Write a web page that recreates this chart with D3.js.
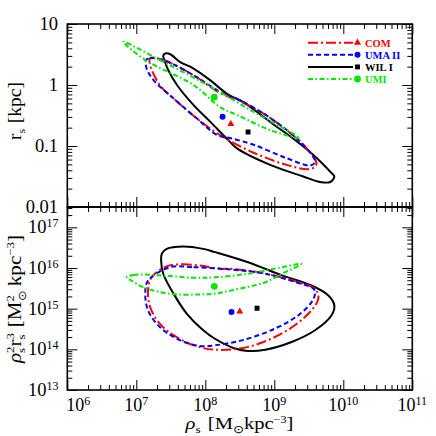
<!DOCTYPE html>
<html><head><meta charset="utf-8">
<script src="https://cdn.jsdelivr.net/npm/d3@7"></script>
<style>body{margin:0;background:#fff}svg{display:block}</style>
</head><body><svg id="c" width="436" height="436"></svg>
<script>
// ---------------- DATA (log10 values) ----------------
const seriesNames = ["COM", "UMA II", "WIL I", "UMI"];
const xTickExps = [6, 7, 8, 9, 10, 11];
const topYTickVals = [10, 1, 0.1, 0.01];
const topYTickLabels = ["10", "1", "0.1", "0.01"];
const botYTickExps = [13, 14, 15, 16, 17];

// top panel contours: [log10 rho_s, log10 r_s]
const comTop = [[7.20,0.44],[7.39,0.41],[7.83,0.16],[8.21,-0.13],[8.50,-0.26],[8.94,-0.54],[9.42,-0.98],[9.61,-1.27],[9.59,-1.34],[9.49,-1.38],[9.18,-1.31],[8.70,-1.11],[8.21,-0.82],[7.88,-0.55],[7.59,-0.27],[7.34,0.00],[7.20,0.33]];
const umaTop = [[7.14,0.41],[7.20,0.44],[7.39,0.41],[7.83,0.16],[8.21,-0.11],[8.50,-0.25],[8.94,-0.54],[9.42,-0.98],[9.59,-1.26],[9.52,-1.32],[9.18,-1.20],[8.70,-0.98],[8.36,-0.87],[8.17,-0.82],[7.88,-0.55],[7.54,-0.22],[7.25,0.08],[7.15,0.27]];
const wilTop = [[7.39,0.48],[7.43,0.52],[7.50,0.50],[7.63,0.38],[7.83,0.27],[8.07,0.08],[8.31,-0.14],[8.55,-0.28],[8.70,-0.40],[9.03,-0.68],[9.18,-0.80],[9.57,-1.15],[9.81,-1.42],[9.87,-1.50],[9.81,-1.59],[9.66,-1.59],[9.42,-1.50],[8.94,-1.31],[8.46,-1.04],[8.33,-0.90],[8.07,-0.60],[7.83,-0.33],[7.59,0.00],[7.46,0.25],[7.41,0.40]];
const umiTop = [[6.81,0.71],[7.34,0.41],[8.11,-0.05],[8.70,-0.44],[9.18,-0.74],[9.37,-0.87],[8.94,-0.74],[8.46,-0.49],[8.21,-0.36],[7.83,0.00],[7.13,0.41]];

// bottom panel contours: [log10 rho_s, log10 rho_s^2 r_s^3]
const comBot = [[7.44,16.04],[7.66,16.09],[7.92,16.06],[8.21,15.98],[8.38,15.98],[8.87,15.86],[9.35,15.65],[9.59,15.49],[9.64,15.28],[9.61,15.12],[9.44,14.79],[9.11,14.39],[8.62,14.06],[8.14,13.99],[7.83,14.10],[7.54,14.35],[7.34,14.63],[7.20,15.04],[7.17,15.45],[7.22,15.77]];
const umaBot = [[7.49,16.02],[7.83,16.02],[8.38,15.96],[8.87,15.86],[9.35,15.63],[9.57,15.49],[9.59,15.37],[9.54,15.16],[9.35,14.84],[9.01,14.51],[8.53,14.22],[8.14,14.10],[7.92,14.08],[7.59,14.26],[7.34,14.55],[7.17,14.96],[7.13,15.37],[7.17,15.69]];
const wilBot = [[7.36,16.18],[7.37,16.35],[7.44,16.47],[7.68,16.53],[7.97,16.47],[8.14,16.39],[8.62,16.14],[9.11,15.82],[9.54,15.57],[9.78,15.33],[9.87,15.08],[9.83,14.84],[9.59,14.47],[9.25,14.18],[8.87,13.99],[8.62,13.96],[8.43,14.02],[8.14,14.26],[7.97,14.47],[7.73,14.88],[7.54,15.37],[7.39,15.86]];
const umiBot = [[6.86,15.77],[6.96,15.83],[7.34,15.82],[7.83,15.76],[8.14,15.77],[8.62,15.86],[9.11,16.02],[9.39,16.10],[9.11,15.86],[8.87,15.65],[8.38,15.45],[8.14,15.37],[7.92,15.35],[7.59,15.35],[7.34,15.41],[7.10,15.53],[6.93,15.69]];

// best-fit points, order: COM, UMA II, WIL I, UMI
const bestRhoTop = [8.37, 8.25, 8.62, 8.13];
const bestRsTop  = [-0.64, -0.52, -0.77, -0.20];
const bestRhoBot = [8.50, 8.38, 8.75, 8.13];
const bestMBot   = [14.93, 14.92, 15.01, 15.55];

// ---------------- STYLE ----------------
const colors = ["#ff0000", "#0000ff", "#000000", "#00e600"];
const dashes = ["10,3,2,3", "5,3", null, "5,2.5,1.5,2.5"];
const symbols = [d3.symbolTriangle, d3.symbolCircle, d3.symbolSquare, d3.symbolCircle];
const symSizes = [22, 28, 24, 36];
const FONT = "'Liberation Serif','Times New Roman',serif";

const svg = d3.select("#c");
const X0 = 67.3, X1 = 412.3, Y0 = 24, YM = 207, Y1 = 390;
const x = d3.scaleLog().domain([1e6, 1e11]).range([X0, X1]);
const yTop = d3.scaleLog().domain([0.01, 10]).range([YM, Y0]);
const yBot = d3.scaleLog().domain([1e13, Math.pow(10, 17.5)]).range([Y1, YM]);
const p10 = v => Math.pow(10, v);

function minorVals(lo, hi, max) {
  const out = [];
  for (let k = lo; k <= hi; k++) for (let m = 2; m <= 9; m++) {
    const v = m * Math.pow(10, k);
    if (v <= max * 1.0001) out.push(v);
  }
  return out;
}
const xMajor = xTickExps.map(p10);
const xMinor = minorVals(6, 10, 1e11);
const yTopMajor = topYTickVals;
const yTopMinor = minorVals(-2, 0, 10);
const yBotMajor = botYTickExps.map(p10);
const yBotMinor = minorVals(13, 17, Math.pow(10, 17.5));

function drawPanelAxes(ys, yMaj, yMin) {
  const [yb, yt] = ys.range();
  const g = svg.append("g");
  const specs = [
    [() => d3.axisBottom(x), `translate(0,${yb})`, xMajor, xMinor],
    [() => d3.axisTop(x), `translate(0,${yt})`, xMajor, xMinor],
    [() => d3.axisLeft(ys), `translate(${X0},0)`, yMaj, yMin],
    [() => d3.axisRight(ys), `translate(${X1},0)`, yMaj, yMin]
  ];
  specs.forEach(([mk, tr, maj, min]) => {
    const a1 = g.append("g").attr("transform", tr)
      .call(mk().tickValues(maj).tickSizeInner(-10).tickSizeOuter(0).tickFormat(""));
    a1.select(".domain").remove();
    const a2 = g.append("g").attr("transform", tr)
      .call(mk().tickValues(min).tickSizeInner(-5).tickSizeOuter(0).tickFormat(""));
    a2.select(".domain").remove();
  });
  g.selectAll(".tick line").attr("stroke", "#000").attr("stroke-width", 1);
  svg.append("rect").attr("x", X0).attr("y", yt).attr("width", X1 - X0).attr("height", yb - yt)
    .attr("fill", "none").attr("stroke", "#000").attr("stroke-width", 1.6);
}

// rich text helper: pieces {t, s, dy, it, stack, gap}
function rich(parent, pieces, fill) {
  const g = parent.append("g");
  let cx = 0, prevStart = 0;
  pieces.forEach(p => {
    const start = p.stack ? prevStart : cx + (p.gap || 0);
    const t = g.append("text").attr("x", start).attr("y", p.dy || 0)
      .attr("font-family", FONT).attr("font-size", p.s)
      .attr("font-style", p.it ? "italic" : "normal")
      .attr("fill", fill || "#000").text(p.t);
    const w = t.node().getComputedTextLength();
    if (p.stack) cx = Math.max(cx, start + w);
    else { prevStart = start; cx = start + w; }
  });
  return { g, w: cx };
}

// clip paths
const defs = svg.append("defs");
defs.append("clipPath").attr("id", "clipTop").append("rect")
  .attr("x", X0).attr("y", Y0).attr("width", X1 - X0).attr("height", YM - Y0);
defs.append("clipPath").attr("id", "clipBot").append("rect")
  .attr("x", X0).attr("y", YM).attr("width", X1 - X0).attr("height", Y1 - YM);

function drawContours(ys, sets, clip, bestX, bestY) {
  const g = svg.append("g").attr("clip-path", `url(#${clip})`);
  const ln = d3.line().x(d => x(p10(d[0]))).y(d => ys(p10(d[1])))
    .curve(d3.curveCatmullRomClosed.alpha(0.5));
  const order = [2, 0, 1, 3];
  order.forEach(i => {
    g.append("path").attr("d", ln(sets[i])).attr("fill", "none")
      .attr("stroke", colors[i]).attr("stroke-width", 2)
      .attr("stroke-dasharray", dashes[i]).attr("stroke-linejoin", "round");
  });
  order.forEach(i => {
    g.append("path").attr("d", d3.symbol().type(symbols[i]).size(symSizes[i])())
      .attr("transform", `translate(${x(p10(bestX[i]))},${ys(p10(bestY[i]))})`)
      .attr("fill", colors[i]);
  });
}

drawContours(yTop, [comTop, umaTop, wilTop, umiTop], "clipTop", bestRhoTop, bestRsTop);
drawContours(yBot, [comBot, umaBot, wilBot, umiBot], "clipBot", bestRhoBot, bestMBot);
drawPanelAxes(yTop, yTopMajor, yTopMinor);
drawPanelAxes(yBot, yBotMajor, yBotMinor);

// x tick labels
xTickExps.forEach((e, i) => {
  const r = rich(svg, [{ t: "10", s: 18 }, { t: String(e), s: 12, dy: -6 }]);
  let cx = x(p10(e));
  if (i === 0) cx = X0 + 11;
  r.g.attr("transform", `translate(${cx - r.w / 2},410.5)`);
});
// top y tick labels
topYTickVals.forEach((v, i) => {
  const r = rich(svg, [{ t: topYTickLabels[i], s: 18.5 }]);
  r.g.attr("transform", `translate(${58 - r.w},${yTop(v) + 6})`);
});
// bottom y tick labels
botYTickExps.forEach(e => {
  const r = rich(svg, [{ t: "10", s: 18.5 }, { t: String(e), s: 12, dy: -6 }]);
  r.g.attr("transform", `translate(${58.5 - r.w},${yBot(p10(e)) + 6})`);
});

// axis titles
function placeH(r, cx, base, target) {
  const sx = target / r.w;
  r.g.attr("transform", `translate(${cx - target / 2},${base}) scale(${sx},1)`);
}
function placeV(r, bx, cy, target) {
  const sx = target / r.w;
  r.g.attr("transform", `translate(${bx},${cy}) rotate(-90) translate(${-target / 2},0) scale(${sx},1)`);
}
const xt = rich(svg, [
  { t: "ρ", s: 17, it: true }, { t: "s", s: 11, dy: 4 },
  { t: "[M", s: 17, gap: 6 }, { t: "⊙", s: 11, dy: 4 },
  { t: "kpc", s: 17 }, { t: "−3", s: 10, dy: -6 }, { t: "]", s: 17 }
]);
placeH(xt, 239.5, 429, 108);

const yt1 = rich(svg, [
  { t: "r", s: 18 }, { t: "s", s: 11, dy: 4 }, { t: "[kpc]", s: 18, gap: 5 }
]);
placeV(yt1, 20.5, 111, 58);

const yt2 = rich(svg, [
  { t: "ρ", s: 18, it: true }, { t: "2", s: 11, dy: -7 }, { t: "s", s: 11, dy: 4, stack: true },
  { t: "r", s: 18 }, { t: "3", s: 11, dy: -7 }, { t: "s", s: 11, dy: 4, stack: true },
  { t: "[M", s: 18, gap: 5 }, { t: "2", s: 11, dy: -7 }, { t: "⊙", s: 11, dy: 5, stack: true },
  { t: "kpc", s: 18, gap: 4 }, { t: "−3", s: 11, dy: -7 }, { t: "]", s: 18 }
]);
placeV(yt2, 21, 299, 128);

// legend
const legX0 = 308, legX1 = 353, legMark = 357.5, legText = 365, legY0 = 42.7, legDy = 12.1;
seriesNames.forEach((name, i) => {
  const yy = legY0 + i * legDy;
  svg.append("line").attr("x1", legX0).attr("x2", legX1).attr("y1", yy).attr("y2", yy)
    .attr("stroke", colors[i]).attr("stroke-width", 2).attr("stroke-dasharray", dashes[i]);
  svg.append("path").attr("d", d3.symbol().type(symbols[i]).size(symSizes[i])())
    .attr("transform", `translate(${legMark},${yy})`).attr("fill", colors[i]);
  svg.append("text").attr("x", legText).attr("y", yy + 4).attr("font-family", FONT)
    .attr("font-size", 10.5).attr("font-weight", "bold").attr("fill", colors[i])
    .style("white-space", "pre").text(name);
});
</script>
</body></html>
